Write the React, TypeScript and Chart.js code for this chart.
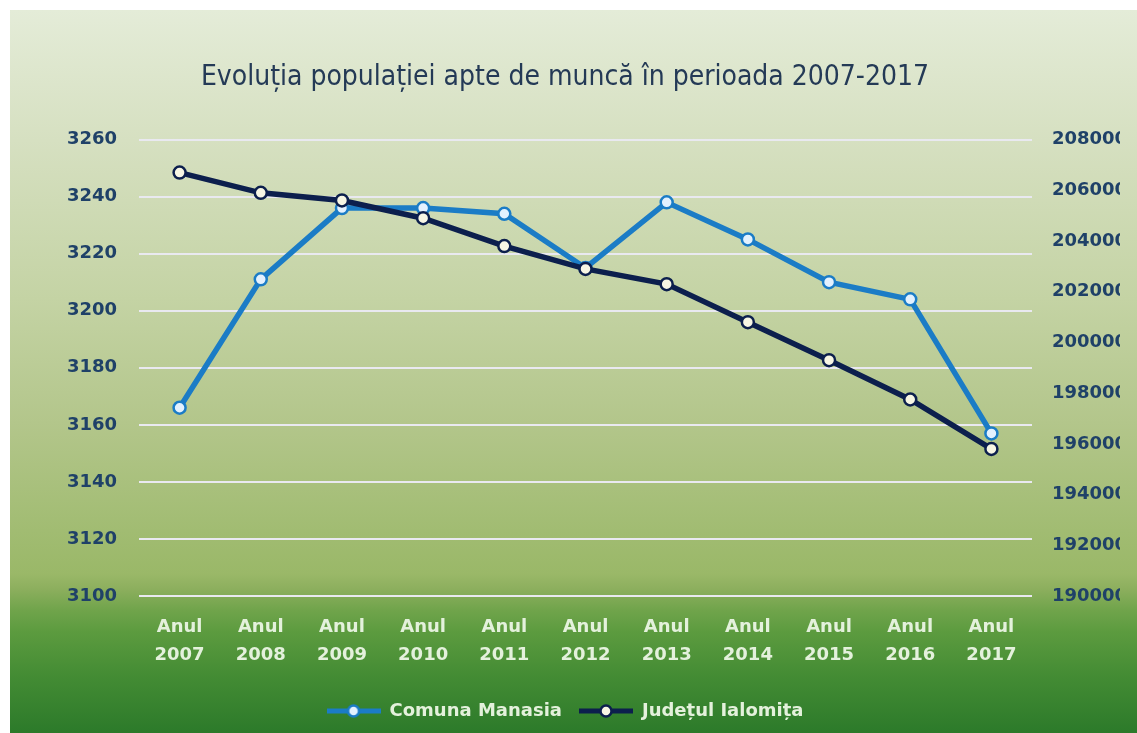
import React, { useEffect, useRef } from "react";
import { Chart, registerables } from "chart.js";

Chart.register(...registerables);

const years = ["2007", "2008", "2009", "2010", "2011", "2012", "2013", "2014", "2015", "2016", "2017"];
const categories = years.map((y) => ["Anul", y]);
const manasiaValues = [3166, 3211, 3236, 3236, 3234, 3215, 3238, 3225, 3210, 3204, 3157];
const ialomitaValues = [206700, 205900, 205600, 204900, 203800, 202900, 202300, 200800, 199300, 197750, 195800];
const seriesNames = ["Comuna Manasia", "Județul Ialomița"];
const titleText = "Evoluția populației apte de muncă în perioada 2007-2017";

const MANASIA_COLOR = "#1b7cc6";
const IALOMITA_COLOR = "#0c1f4d";
const MANASIA_FILL = "#e3f1ff";
const IALOMITA_FILL = "#f7f6e4";

function makeLegendIcon(color: string, fill: string): HTMLCanvasElement {
  const c = document.createElement("canvas");
  c.width = 54;
  c.height = 18;
  const ctx = c.getContext("2d")!;
  ctx.strokeStyle = color;
  ctx.lineWidth = 5;
  ctx.beginPath();
  ctx.moveTo(0, 9);
  ctx.lineTo(54, 9);
  ctx.stroke();
  ctx.beginPath();
  ctx.arc(27, 9, 5.5, 0, Math.PI * 2);
  ctx.fillStyle = fill;
  ctx.fill();
  ctx.lineWidth = 2.5;
  ctx.stroke();
  return c;
}

const bgPlugin = {
  id: "bgGradient",
  beforeDraw(chart: any) {
    const { ctx, width, height } = chart;
    const g = ctx.createLinearGradient(0, 0, 0, height);
    g.addColorStop(0, "#e4ecd8");
    g.addColorStop(0.18, "#d6e0c1");
    g.addColorStop(0.4, "#c4d3a4");
    g.addColorStop(0.57, "#b3c68b");
    g.addColorStop(0.78, "#9ab868");
    g.addColorStop(0.8, "#8daf5e");
    g.addColorStop(0.83, "#70a44b");
    g.addColorStop(0.86, "#5c9b3f");
    g.addColorStop(0.92, "#448c34");
    g.addColorStop(1, "#2c7a2a");
    ctx.save();
    ctx.fillStyle = g;
    ctx.fillRect(0, 0, width, height);
    ctx.restore();
  },
};

export default function App() {
  const ref = useRef<HTMLCanvasElement | null>(null);

  useEffect(() => {
    if (!ref.current) return;
    const icons = [makeLegendIcon(MANASIA_COLOR, MANASIA_FILL), makeLegendIcon(IALOMITA_COLOR, IALOMITA_FILL)];
    const axisFont = { family: "'DejaVu Sans', sans-serif", size: 18, weight: "bold" as const };
    const chart = new Chart(ref.current, {
      type: "line",
      data: {
        labels: categories,
        datasets: [
          {
            label: seriesNames[0],
            data: manasiaValues,
            yAxisID: "y",
            borderColor: MANASIA_COLOR,
            backgroundColor: MANASIA_FILL,
            borderWidth: 5.5,
            pointRadius: 6,
            pointBorderWidth: 2.5,
            pointBackgroundColor: MANASIA_FILL,
            pointBorderColor: MANASIA_COLOR,
            tension: 0,
            order: 1,
          },
          {
            label: seriesNames[1],
            data: ialomitaValues,
            yAxisID: "y1",
            borderColor: IALOMITA_COLOR,
            backgroundColor: IALOMITA_FILL,
            borderWidth: 5.5,
            pointRadius: 6,
            pointBorderWidth: 2.5,
            pointBackgroundColor: IALOMITA_FILL,
            pointBorderColor: IALOMITA_COLOR,
            tension: 0,
            order: 0,
          },
        ],
      },
      options: {
        responsive: false,
        animation: false,
        layout: { padding: { left: 0, right: 17, top: 0, bottom: 3 } },
        plugins: {
          tooltip: { enabled: false },
          title: {
            display: true,
            text: titleText,
            color: "#243a56",
            font: { family: "'Liberation Sans Narrow', 'DejaVu Sans Condensed', sans-serif", size: 28, weight: "normal", lineHeight: 1.2 },
            padding: { top: 51, bottom: 45 },
          },
          legend: {
            position: "bottom",
            labels: {
              usePointStyle: true,
              pointStyleWidth: 54,
              boxHeight: 18,
              padding: 17,
              color: "#e4f1dc",
              font: { family: "'DejaVu Sans', sans-serif", size: 18, weight: "bold" },
              generateLabels: (ch: any) =>
                ch.data.datasets.map((ds: any, i: number) => ({
                  text: ds.label,
                  pointStyle: icons[i],
                  fillStyle: "transparent",
                  strokeStyle: "transparent",
                  lineWidth: 0,
                  hidden: false,
                  datasetIndex: i,
                  fontColor: "#e4f1dc",
                })),
            },
          },
        },
        scales: {
          x: {
            offset: true,
            grid: { display: false, drawTicks: false, offset: true },
            border: { display: false },
            ticks: {
              color: "#e4f1dc",
              font: { ...axisFont, lineHeight: 28 / 18 },
              padding: 17,
              maxRotation: 0,
              autoSkip: false,
            },
            afterFit: (s: any) => {
              s.height = 89;
            },
          },
          y: {
            position: "left",
            min: 3100,
            max: 3260,
            grid: { color: "#e9e9f0", lineWidth: 2, drawTicks: false },
            border: { display: false },
            ticks: {
              stepSize: 20,
              color: "#1f4168",
              font: axisFont,
              padding: 22,
              callback: (v: any) => String(v),
            },
            afterFit: (s: any) => {
              s.width = 129;
            },
          },
          y1: {
            position: "right",
            min: 190000,
            max: 208000,
            grid: { drawOnChartArea: false, drawTicks: false },
            border: { display: false },
            ticks: {
              stepSize: 2000,
              color: "#1f4168",
              font: axisFont,
              padding: 20,
              callback: (v: any) => String(v),
            },
            afterFit: (s: any) => {
              s.width = 88;
            },
          },
        },
      },
      plugins: [bgPlugin],
    });
    return () => chart.destroy();
  }, []);

  return (
    <div style={{ position: "absolute", left: 10, top: 10, width: 1127, height: 723 }}>
      <canvas ref={ref} width={1127} height={723} style={{ display: "block", width: 1127, height: 723 }} />
    </div>
  );
}
